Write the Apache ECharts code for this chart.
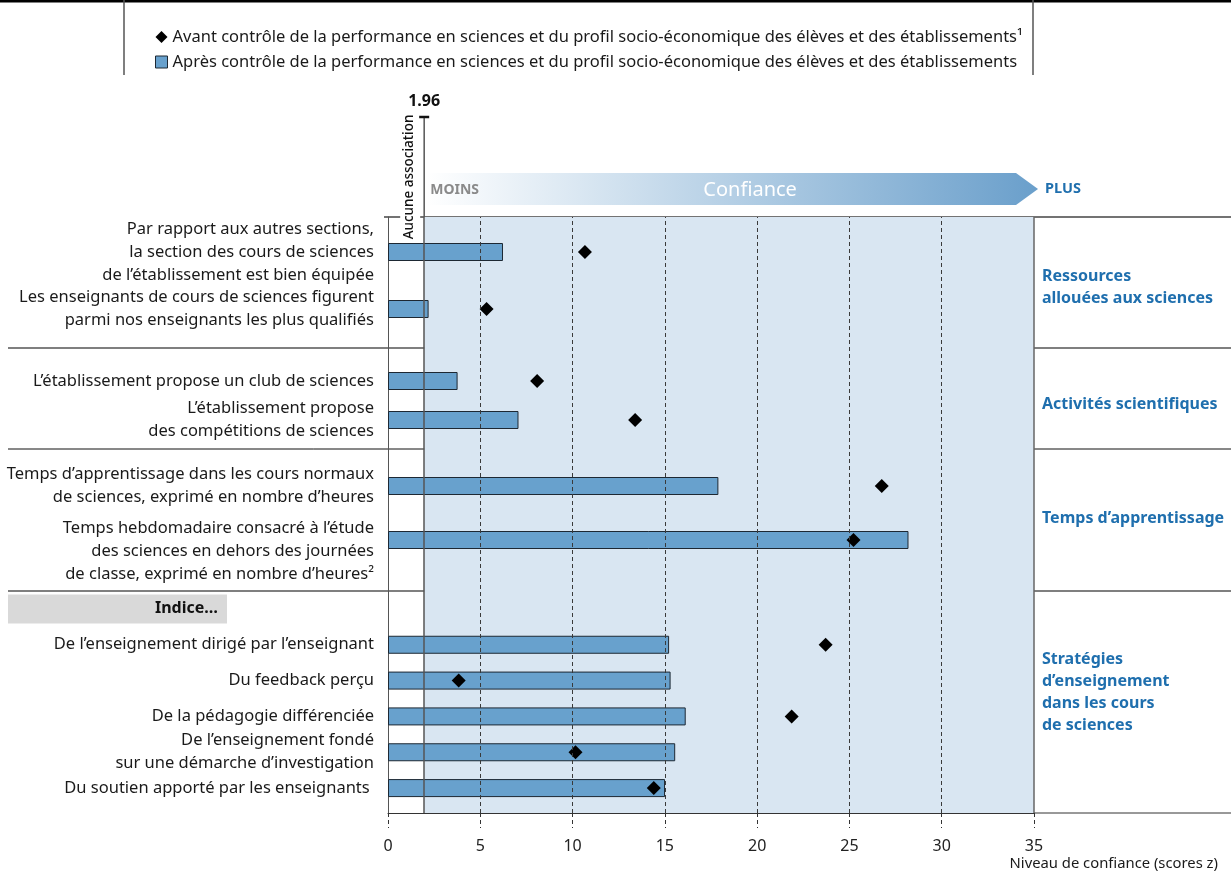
<!DOCTYPE html>
<html><head><meta charset="utf-8">
<script src="https://cdn.jsdelivr.net/npm/echarts@6/dist/echarts.min.js"></script>
<style>html,body{margin:0;padding:0;background:#fff}#c{width:1231px;height:874px}</style>
</head><body><div id="c"></div>
<script>
// ---------------- data ----------------
const categories = [
  'Par rapport aux autres sections,\nla section des cours de sciences\nde l’établissement est bien équipée',
  'Les enseignants de cours de sciences figurent\nparmi nos enseignants les plus qualifiés',
  'L’établissement propose un club de sciences',
  'L’établissement propose\ndes compétitions de sciences',
  'Temps d’apprentissage dans les cours normaux\nde sciences, exprimé en nombre d’heures',
  'Temps hebdomadaire consacré à l’étude\ndes sciences en dehors des journées\nde classe, exprimé en nombre d’heures²',
  'De l’enseignement dirigé par l’enseignant',
  'Du feedback perçu',
  'De la pédagogie différenciée',
  'De l’enseignement fondé\nsur une démarche d’investigation',
  'Du soutien apporté par les enseignants '
];
const groupNames = [
  'Ressources\nallouées aux sciences',
  'Activités scientifiques',
  'Temps d’apprentissage',
  'Stratégies\nd’enseignement\ndans les cours\nde sciences'
];
const groupSizes = [2, 2, 2, 5];
const groupHeader = ['', '', '', 'Indice…'];
const afterControl  = [6.23, 2.20, 3.77, 7.07, 17.90, 28.20, 15.23, 15.31, 16.13, 15.56, 15.01];
const beforeControl = [10.67, 5.34, 8.08, 13.39, 26.75, 25.22, 23.71, 3.83, 21.87, 10.16, 14.40];
const xTickValues = [0, 5, 10, 15, 20, 25, 30, 35];
const threshold = 1.96;
const BEFORE = 'Avant contrôle de la performance en sciences et du profil socio-économique des élèves et des établissements';
const AFTER  = 'Après contrôle de la performance en sciences et du profil socio-économique des élèves et des établissements';

// ---------------- layout ----------------
const FONT = 'Noto Sans';
const PL = 388, PW = 646;          // plot left / width
const mainTop = 217, mainH = 596;
const groupGrids = [
  {top: 223.5, height: 114},
  {top: 361.5, height: 78},
  {top: 459, height: 108},
  {top: 591, height: 215}
];
const xMin = xTickValues[0], xMax = xTickValues[xTickValues.length - 1];

const grids = [{left: PL, top: mainTop, width: PW, height: mainH}]
  .concat(groupGrids.map(g => ({left: PL, top: g.top, width: PW, height: g.height})));

const xAxes = [{
  gridIndex: 0, type: 'value', min: xMin, max: xMax, interval: 5,
  axisLine: {lineStyle: {color: '#333', width: 1}},
  axisTick: {length: 15, lineStyle: {color: '#333', type: [4, 3]}},
  axisLabel: {margin: 25, fontSize: 16, color: '#222', fontFamily: FONT},
  splitLine: {show: false}
}];
const yAxes = [{
  gridIndex: 0, type: 'value', min: 0, max: 1,
  axisLine: {show: true, lineStyle: {color: '#555', width: 1}},
  axisTick: {show: false}, axisLabel: {show: false}, splitLine: {show: false}
}];

const series = [{
  type: 'line', xAxisIndex: 0, yAxisIndex: 0, data: [[0, 0]], showSymbol: false,
  lineStyle: {opacity: 0}, silent: true, z: 1,
  markArea: {silent: true, itemStyle: {color: '#d9e6f2'},
    data: [[{xAxis: threshold, yAxis: 0}, {xAxis: xMax, yAxis: 1}]]},
  markLine: {silent: true, symbol: ['none', 'none'], label: {show: false},
    data: xTickValues.filter(v => v > xMin && v < xMax).map(v => ({xAxis: v,
      lineStyle: {type: [4, 3], color: '#3a3a3a', width: 1}}))
      .concat([{xAxis: threshold, lineStyle: {type: 'solid', color: '#555', width: 1.5}},
               {xAxis: xMax, lineStyle: {type: 'solid', color: '#666', width: 1.5}}])}
}];

let start = 0;
groupSizes.forEach((n, gi) => {
  const idx = gi + 1;
  const cats = categories.slice(start, start + n);
  const after = afterControl.slice(start, start + n);
  const before = beforeControl.slice(start, start + n);
  const hasHeader = groupHeader[gi] !== '';
  const yData = hasHeader ? [groupHeader[gi]].concat(cats) : cats;
  const off = hasHeader ? 1 : 0;
  xAxes.push({gridIndex: idx, type: 'value', min: xMin, max: xMax, show: false});
  yAxes.push({
    gridIndex: idx, type: 'category', inverse: true, data: yData,
    axisLine: {show: false}, axisTick: {show: false}, splitLine: {show: false},
    axisLabel: {
      interval: 0, margin: 14, align: 'right', fontSize: 16.5, lineHeight: 23,
      color: '#1a1a1a', fontFamily: FONT,
      formatter: v => {
        if (v === groupHeader[gi]) return '{hdr|' + v + '}{gap| }';
        if (v.indexOf('Temps hebdomadaire') === 0) return '\n' + v;
        return v;
      },
      rich: {
        hdr: {backgroundColor: '#d9d9d9', fontWeight: 'bold', fontSize: 16, fontFamily: FONT,
              color: '#111', width: 210, height: 29, lineHeight: 29, align: 'right', padding: [0, 9, 0, 0]},
        gap: {width: 147, height: 29, fontSize: 16}
      }
    }
  });
  series.push({
    type: 'bar', name: AFTER, xAxisIndex: idx, yAxisIndex: idx, barWidth: 18,
    data: (hasHeader ? ['-'] : []).concat(after),
    itemStyle: {color: '#68a1cd', borderColor: '#1d2833', borderWidth: 1}, z: 3
  });
  series.push({
    type: 'scatter', name: BEFORE, xAxisIndex: idx, yAxisIndex: idx,
    symbol: 'diamond', symbolSize: 14, itemStyle: {color: '#000', opacity: 1}, z: 4,
    data: before.map((v, j) => [v, j + off])
  });
  start += n;
});

const chart = echarts.init(document.getElementById('c'), null, {renderer: 'canvas'});
chart.setOption({
  backgroundColor: '#fff',
  animation: false,
  legend: {
    orient: 'vertical', left: 150, top: 23, itemWidth: 12, itemHeight: 12, itemGap: 7,
    selectedMode: false,
    textStyle: {fontSize: 16.5, color: '#1a1a1a', fontFamily: FONT, lineHeight: 18},
    formatter: n => n === BEFORE ? n + '¹' : n,
    data: [
      {name: BEFORE, icon: 'diamond', itemStyle: {color: '#000', opacity: 1}},
      {name: AFTER, icon: 'rect', itemStyle: {color: '#68a1cd', borderColor: '#1d2833', borderWidth: 1}}
    ]
  },
  grid: grids, xAxis: xAxes, yAxis: yAxes, series: series
});

// decorations positioned via the library's scale
const px = v => chart.convertToPixel({gridIndex: 0}, [v, 0])[0];
const xT = px(threshold), x0 = px(xMin), x35 = px(xMax);
const yBottom = chart.convertToPixel({gridIndex: 0}, [0, 0])[1];
const yTop = chart.convertToPixel({gridIndex: 0}, [0, 1])[1];
const sepYs = [348, 449, 591];
const groupLabelY = [287, 404, 518, 692];
const g = [];
// frame lines
g.push({type: 'line', shape: {x1: 0, y1: 1, x2: 1231, y2: 1}, style: {stroke: '#000', lineWidth: 3}});
g.push({type: 'line', shape: {x1: 124, y1: 0, x2: 124, y2: 75}, style: {stroke: '#555', lineWidth: 1.5}});
g.push({type: 'line', shape: {x1: 1033, y1: 0, x2: 1033, y2: 75}, style: {stroke: '#555', lineWidth: 1.5}});
g.push({type: 'line', shape: {x1: x0 - 4, y1: yTop, x2: 1231, y2: yTop}, style: {stroke: '#444', lineWidth: 1.5}});
sepYs.forEach((y, i) => g.push({type: 'line', shape: {x1: 8, y1: y, x2: 1231, y2: y},
  style: {stroke: i === 1 ? '#111' : '#555', lineWidth: i === 1 ? 1 : 1.5}}));
g.push({type: 'line', shape: {x1: x35, y1: yBottom, x2: 1231, y2: yBottom}, style: {stroke: '#333', lineWidth: 1}});
// threshold marker above plot
g.push({type: 'line', shape: {x1: xT, y1: 117, x2: xT, y2: yTop}, style: {stroke: '#555', lineWidth: 1.5}});
g.push({type: 'line', shape: {x1: xT - 5, y1: 117, x2: xT + 5, y2: 117}, style: {stroke: '#111', lineWidth: 2.5}});
g.push({type: 'text', x: xT, y: 101, style: {text: String(threshold), align: 'center', verticalAlign: 'middle',
  font: 'bold 16px "' + FONT + '"', fill: '#111'}});
g.push({type: 'rect', shape: {x: xT - 24, y: yTop - 4, width: 20, height: 22}, style: {fill: '#fff'}, z: 10});
g.push({type: 'text', x: xT - 15, y: 177, rotation: Math.PI / 2, z: 11,
  style: {text: 'Aucune association', align: 'center', verticalAlign: 'middle',
  font: '500 13.5px "' + FONT + '"', fill: '#111'}});
// confidence arrow
const ay1 = 173, ay2 = 205, ayM = (ay1 + ay2) / 2;
g.push({type: 'polygon', shape: {points: [[xT + 3, ay1], [x35 - 18, ay1], [x35 + 4, ayM], [x35 - 18, ay2], [xT + 3, ay2]]},
  style: {fill: {type: 'linear', x: 0, y: 0, x2: 1, y2: 0, colorStops: [
    {offset: 0, color: '#ffffff'}, {offset: 1, color: '#6a9fcb'}]}}});
g.push({type: 'text', x: xT + 6, y: ayM + 1, style: {text: 'MOINS', align: 'left', verticalAlign: 'middle',
  font: 'bold 14px "' + FONT + '"', fill: '#8a8a8a'}});
g.push({type: 'text', x: (xT + x35) / 2 + 21, y: ayM + 1, style: {text: 'Confiance', align: 'center', verticalAlign: 'middle',
  font: '20px "' + FONT + '"', fill: '#ffffff'}});
g.push({type: 'text', x: x35 + 11, y: ayM, style: {text: 'PLUS', align: 'left', verticalAlign: 'middle',
  font: 'bold 14.5px "' + FONT + '"', fill: '#1f6fae'}});
// group labels
groupNames.forEach((n, i) => g.push({type: 'text', x: x35 + 8, y: groupLabelY[i],
  style: {text: n, align: 'left', verticalAlign: 'middle', font: 'bold 16px "' + FONT + '"',
  lineHeight: 22, fill: '#1f6fae'}}));
// axis name
g.push({type: 'text', x: 1218, y: 864, style: {text: 'Niveau de confiance (scores z)', align: 'right',
  verticalAlign: 'middle', font: '14.8px "' + FONT + '"', fill: '#1a1a1a'}});
chart.setOption({graphic: g});
</script></body></html>
